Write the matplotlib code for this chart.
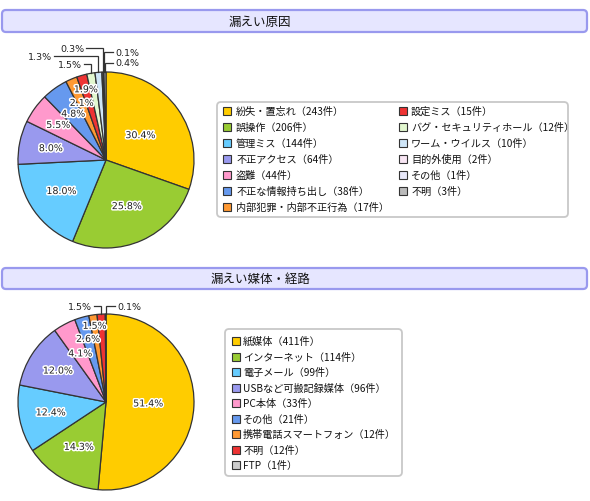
import matplotlib
matplotlib.use('Agg')
import matplotlib.pyplot as plt
from matplotlib.patches import FancyBboxPatch, Rectangle
import matplotlib.patheffects as pe
import numpy as np

plt.rcParams['font.family'] = ['Noto Sans CJK JP', 'DejaVu Sans']

# ---------------- data ----------------
cause_title = "漏えい原因"
cause_labels = ["紛失・置忘れ", "誤操作", "管理ミス", "不正アクセス", "盗難",
                "不正な情報持ち出し", "内部犯罪・内部不正行為", "設定ミス",
                "バグ・セキュリティホール", "ワーム・ウイルス", "目的外使用",
                "その他", "不明"]
cause_counts = [243, 206, 144, 64, 44, 38, 17, 15, 12, 10, 2, 1, 3]
cause_colors = ["#FFCC00", "#99CC33", "#66CCFF", "#9999EE", "#FF99CC",
                "#6699EE", "#FF9933", "#EE3333", "#E2F7CF", "#CFE6F8",
                "#F8E6F4", "#E6E6F8", "#BBBBBB"]

route_title = "漏えい媒体・経路"
route_labels = ["紙媒体", "インターネット", "電子メール", "USBなど可搬記録媒体",
                "PC本体", "その他", "携帯電話スマートフォン", "不明", "FTP"]
route_counts = [411, 114, 99, 96, 33, 21, 12, 12, 1]
route_colors = ["#FFCC00", "#99CC33", "#66CCFF", "#9999EE", "#FF99CC",
                "#6699EE", "#FF9933", "#EE3333", "#CCCCCC"]

# ---------------- layout (pixel units, origin top-left) ----------------
W, H = 590, 502


def Y(py):
    return H - py


fig = plt.figure(figsize=(W / 100, H / 100), dpi=100)
ax = fig.add_axes([0, 0, 1, 1])

halo = [pe.withStroke(linewidth=2.2, foreground='white')]


def header(y0, y1, title, tx=260):
    bar = FancyBboxPatch((2, Y(y1)), 585, y1 - y0,
                         boxstyle='round,pad=0,rounding_size=4',
                         fc='#E6E6FF', ec='#9999EE', lw=1.6, zorder=1)
    ax.add_patch(bar)
    ax.text(tx, Y((y0 + y1) / 2), title, ha='center', va='center',
            fontsize=9, color='#111111', zorder=2)


def draw_pie(counts, colors, cx, cy, r, inner_dist, outer):
    wedges, _ = ax.pie(counts, colors=colors, startangle=90, counterclock=False,
                       center=(cx, Y(cy)), radius=r,
                       wedgeprops=dict(edgecolor='#333333', linewidth=0.9))
    total = sum(counts)
    for i, w in enumerate(wedges):
        pct = f"{100 * counts[i] / total:.1f}%"
        ang = np.deg2rad((w.theta1 + w.theta2) / 2)
        if i < len(inner_dist):
            d = inner_dist[i] * r
            ax.text(cx + d * np.cos(ang), Y(cy) + d * np.sin(ang), pct,
                    ha='center', va='center', fontsize=6.8, color='#222222',
                    family='DejaVu Sans', path_effects=halo, zorder=5)
        elif i in outer:
            lx, ly, side = outer[i]
            ex = cx + r * np.cos(ang)
            ey = Y(cy) + r * np.sin(ang)
            if side == 'left':
                ax.plot([ex, ex, lx + 2], [ey, Y(ly), Y(ly)], color='#333333',
                        lw=0.9, zorder=4, solid_joinstyle='miter')
                ax.text(lx, Y(ly), pct, ha='right', va='center', fontsize=6.8,
                        color='#222222', family='DejaVu Sans', zorder=5)
            else:
                ax.plot([ex, ex, lx - 2], [ey, Y(ly), Y(ly)], color='#333333',
                        lw=0.9, zorder=4, solid_joinstyle='miter')
                ax.text(lx, Y(ly), pct, ha='left', va='center', fontsize=6.8,
                        color='#222222', family='DejaVu Sans', zorder=5)


def legend_box(x0, y0, x1, y1):
    box = FancyBboxPatch((x0, Y(y1)), x1 - x0, y1 - y0,
                         boxstyle='round,pad=0,rounding_size=4',
                         fc='white', ec='#C8C8C8', lw=1.3, zorder=1)
    ax.add_patch(box)


def legend_item(mx, ty, tx, color, text):
    ax.add_patch(Rectangle((mx, Y(ty) - 4), 8, 8, fc=color, ec='#333333',
                           lw=0.8, zorder=3))
    ax.text(tx, Y(ty), text, ha='left', va='center', fontsize=7.3,
            color='#111111', zorder=3)


# ---- top panel ----
header(11, 33, cause_title)
draw_pie(cause_counts, cause_colors, 106, 161, 88,
         [0.48, 0.58, 0.62, 0.64, 0.67, 0.64, 0.70, 0.83],
         {8: (82, 65, 'left'), 9: (52, 57, 'left'), 10: (84, 49, 'left'),
          11: (115, 53, 'right'), 12: (115, 64, 'right')})
legend_box(217, 103, 568, 218)
for i, (lab, cnt, col) in enumerate(zip(cause_labels, cause_counts, cause_colors)):
    if i < 7:
        legend_item(223, 112 + 16 * i, 236, col, f"{lab}（{cnt}件）")
    else:
        legend_item(399, 112 + 16 * (i - 7), 411, col, f"{lab}（{cnt}件）")

# ---- bottom panel ----
header(269, 290, route_title)
draw_pie(route_counts, route_colors, 106, 403, 88,
         [0.48, 0.60, 0.64, 0.65, 0.62, 0.74, 0.87],
         {7: (92, 307, 'left'), 8: (117, 307, 'right')})
legend_box(225, 330, 402, 477)
for i, (lab, cnt, col) in enumerate(zip(route_labels, route_counts, route_colors)):
    legend_item(232, 342 + 15.5 * i, 243, col, f"{lab}（{cnt}件）")

ax.set_xlim(0, W)
ax.set_ylim(0, H)
ax.set_aspect('equal')
ax.axis('off')

fig.savefig('out.png', dpi=100, facecolor='white')
